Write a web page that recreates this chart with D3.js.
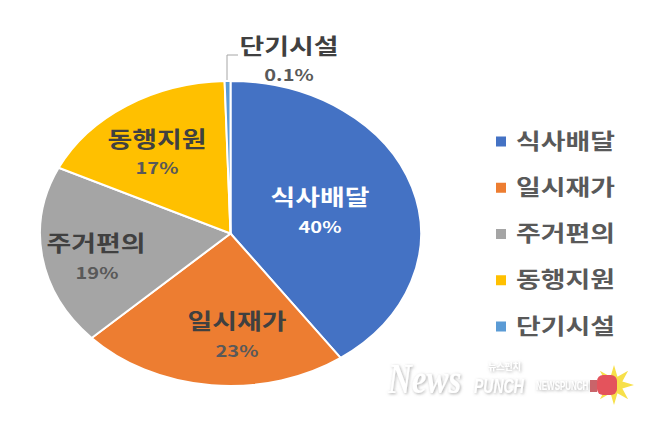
<!DOCTYPE html>
<html lang="ko">
<head>
<meta charset="utf-8">
<script src="https://cdn.jsdelivr.net/npm/d3@7"></script>
<style>
  html, body { margin: 0; background: #fff; }
  svg { display: block; }
  text { font-family: "Noto Sans CJK KR", sans-serif; font-weight: 700; fill: #595959; }
</style>
</head>
<body>
<svg class="chart" width="647" height="427"></svg>
<script>
  const categories = ["식사배달", "일시재가", "주거편의", "동행지원", "단기시설"];
  // slice sizes, printed labels are separate
  const sliceValues = [40.2, 22.8, 19.1, 17.4, 0.5];
  const percentLabels = ["40%", "23%", "19%", "17%", "0.1%"];
  const colors = ["#4472c4", "#ed7d31", "#a5a5a5", "#ffc000", "#5b9bd5"];

  const svg = d3.select(".chart");
  const cx = 230.5, cy = 233.5, rx = 190.5, ry = 152.5;
  const stretch = 1.25;

  const pie = d3.pie().sort(null).value(d => d.value);
  const arc = d3.arc().innerRadius(0).outerRadius(1);
  const rows = categories.map((name, i) => ({ name, value: sliceValues[i], label: percentLabels[i], color: colors[i] }));

  svg.append("g")
    .attr("transform", `translate(${cx},${cy}) scale(${rx},${ry})`)
    .selectAll("path")
    .data(pie(rows))
    .join("path")
    .attr("d", arc)
    .attr("fill", d => d.data.color)
    .attr("stroke", "#fff")
    .attr("stroke-width", 2)
    .attr("vector-effect", "non-scaling-stroke");

  // leader line for the tiny slice
  svg.append("path")
    .attr("d", d3.line()([[227, 80], [227, 55], [238, 55]]))
    .attr("fill", "none")
    .attr("stroke", "#a6a6a6")
    .attr("stroke-width", 1);

  function stretched(sel, x, y, size, fill) {
    sel.attr("transform", `translate(${x},${y}) scale(${stretch},1)`)
      .attr("text-anchor", "middle")
      .attr("dy", "0.35em")
      .attr("font-size", size)
      .style("fill", fill);
  }

  // label centres per slice: name x, name y, percent x, percent y
  const labelSpots = [[320, 197, 320, 227], [237, 321, 237, 351], [96, 243, 97, 273], [157, 139, 157, 168], [289, 46, 289, 75]];
  rows.forEach((d, i) => {
    const [nx, ny, px, py] = labelSpots[i];
    const fill = i === 0 ? "#fff" : "#404040";
    svg.append("text").text(d.name).call(stretched, nx, ny, 21.5, fill);
    svg.append("text").text(d.label).call(stretched, px, py, 16, i === 0 ? "#fff" : "#595959");
  });

  // legend
  const legendY = d3.scalePoint().domain(categories).range([141, 326]);
  const legend = svg.append("g").selectAll("g").data(rows).join("g")
    .attr("transform", d => `translate(0,${legendY(d.name)})`);
  legend.append("rect")
    .attr("x", 496).attr("y", -4.5).attr("width", 10).attr("height", 10)
    .attr("fill", d => d.color);
  legend.append("text")
    .text(d => d.name)
    .attr("transform", `translate(516,0) scale(${stretch},1)`)
    .attr("dy", "0.35em")
    .attr("font-size", 21.5)
    .style("fill", "#595959");

  // watermark
  const blur = svg.append("defs").append("filter").attr("id", "soft");
  blur.append("feDropShadow")
    .attr("dx", 1).attr("dy", 1).attr("stdDeviation", 1.5)
    .attr("flood-color", "#777").attr("flood-opacity", 0.6);
  const mark = svg.append("g").attr("filter", "url(#soft)");
  mark.append("text").text("News")
    .attr("transform", "translate(388,393) scale(1,1.25)")
    .attr("font-size", 33).attr("font-style", "italic")
    .style("font-family", "'Liberation Serif', serif").style("fill", "#fff");
  mark.append("text").text("PUNCH")
    .attr("transform", "translate(474,393) scale(1,1.5)")
    .attr("font-size", 14).attr("font-style", "italic")
    .style("font-family", "'Liberation Sans', sans-serif").style("fill", "#fff");
  mark.append("text").text("뉴스펀치")
    .attr("x", 488).attr("y", 370)
    .attr("font-size", 9)
    .style("fill", "#fff");
  mark.append("text").text("NEWSPUNCH")
    .attr("transform", "translate(536,390) scale(1,1.6)")
    .attr("font-size", 8)
    .style("font-family", "'Liberation Sans', sans-serif").style("fill", "#fff");

  // glove and burst of the logo
  const burst = d3.lineRadial().curve(d3.curveLinearClosed)
    .angle((d, i) => i * Math.PI / 8)
    .radius((d, i) => (i % 2 ? 9 : 20));
  svg.append("path")
    .attr("transform", "translate(614,385)")
    .attr("d", burst(d3.range(16)))
    .attr("fill", "#f7e04a");
  svg.append("rect")
    .attr("x", 597).attr("y", 375).attr("width", 20).attr("height", 20).attr("rx", 6)
    .attr("fill", "#e4535c");
  svg.append("rect")
    .attr("x", 590).attr("y", 380).attr("width", 7).attr("height", 12)
    .attr("fill", "#c9646a");
</script>
</body>
</html>
